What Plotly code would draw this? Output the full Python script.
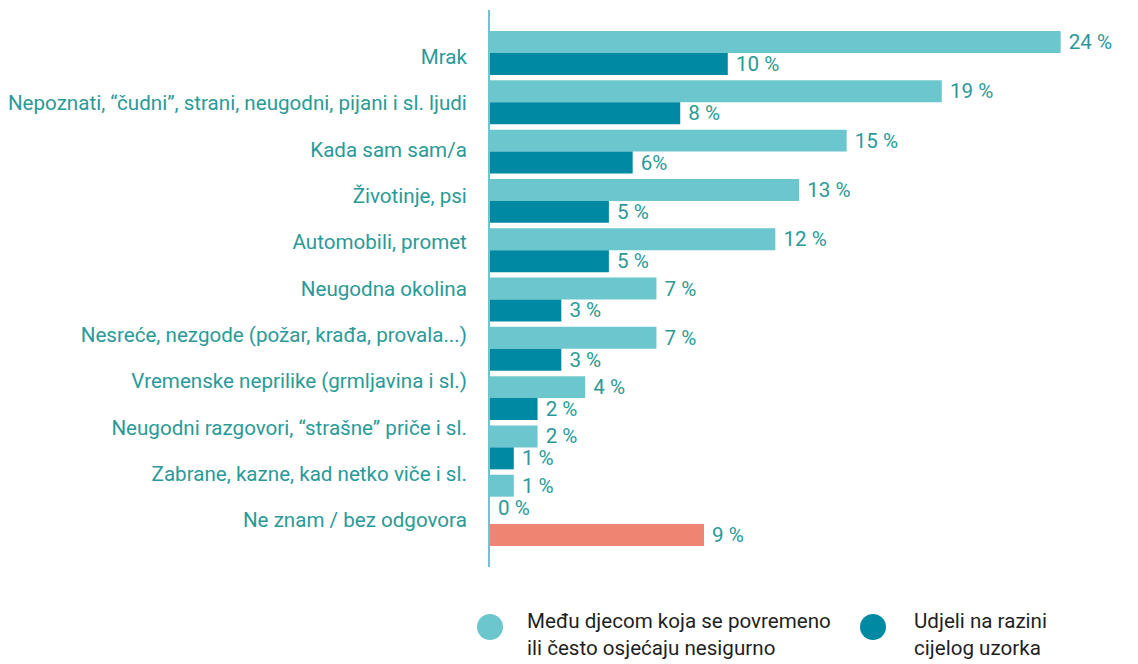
import plotly.graph_objects as go

categories = [
    "Mrak",
    "Nepoznati, “čudni”, strani, neugodni, pijani i sl. ljudi",
    "Kada sam sam/a",
    "Životinje, psi",
    "Automobili, promet",
    "Neugodna okolina",
    "Nesreće, nezgode (požar, krađa, provala...)",
    "Vremenske neprilike (grmljavina i sl.)",
    "Neugodni razgovori, “strašne” priče i sl.",
    "Zabrane, kazne, kad netko viče i sl.",
    "Ne znam / bez odgovora",
]
insecure_values = [24, 19, 15, 13, 12, 7, 7, 4, 2, 1, 9]
insecure_labels = ["24 %", "19 %", "15 %", "13 %", "12 %", "7 %", "7 %", "4 %", "2 %", "1 %", "9 %"]
sample_values = [10, 8, 6, 5, 5, 3, 3, 2, 1, 0, None]
sample_labels = ["10 %", "8 %", "6%", "5 %", "5 %", "3 %", "3 %", "2 %", "1 %", "0 %", ""]
legend_names = ["Među djecom koja se povremeno<br>ili često osjećaju nesigurno",
                "Udjeli na razini<br>cijelog uzorka"]

LIGHT = "#6CC6CE"
DARK = "#0089A3"
SALMON = "#F08473"
TEXT = "#2A9A98"
FONT = "Roboto"
FS = 20.6

positions = list(range(len(categories)))
light_colors = [LIGHT] * (len(categories) - 1) + [SALMON]

fig = go.Figure()
fig.add_trace(go.Bar(
    y=positions, x=insecure_values, orientation="h",
    marker=dict(color=light_colors, line=dict(width=0)),
    text=["\u00a0" + t for t in insecure_labels], textposition="outside",
    constraintext="none",
    textfont=dict(color=TEXT, size=FS, family=FONT),
    cliponaxis=False, showlegend=False, hoverinfo="skip",
))
fig.add_trace(go.Bar(
    y=positions, x=sample_values, orientation="h",
    marker=dict(color=DARK, line=dict(width=0)),
    text=["\u00a0" + t if t else "" for t in sample_labels], textposition="outside",
    constraintext="none",
    textfont=dict(color=TEXT, size=FS, family=FONT),
    cliponaxis=False, showlegend=False, hoverinfo="skip",
))

fig.update_layout(
    width=1138, height=664,
    margin=dict(l=490, r=6, t=10, b=97),
    paper_bgcolor="white", plot_bgcolor="white",
    barmode="group", bargap=0.109, bargroupgap=0,
    font=dict(family=FONT, color=TEXT, size=FS),
    xaxis=dict(range=[0, 27], visible=False, fixedrange=True),
    yaxis=dict(range=[10.426, -0.872], showticklabels=False, showgrid=False,
               zeroline=False, showline=True, linecolor=LIGHT, linewidth=2,
               ticks=""),
    yaxis2=dict(overlaying="y", side="left", range=[11.017, -1.013],
                tickvals=positions, ticktext=categories, showgrid=False,
                zeroline=False, showline=False, ticks="outside", ticklen=18,
                tickcolor="rgba(0,0,0,0)",
                tickfont=dict(color=TEXT, size=FS, family=FONT)),
)
# dummy trace to activate yaxis2
fig.add_trace(go.Scatter(x=[None], y=[None], yaxis="y2", showlegend=False, hoverinfo="skip"))

# legend drawn manually
plot_w = 1138 - 490 - 6
plot_h = 664 - 10 - 97
def px_x(p):
    return (p - 490) / plot_w
def px_y(p):
    return (567 - p) / plot_h

for cx, tx, col, name in [(490, 525, LIGHT, legend_names[0]), (873, 912, DARK, legend_names[1])]:
    fig.add_shape(type="circle", xref="paper", yref="paper", xsizemode="pixel", ysizemode="pixel",
                  xanchor=px_x(cx), yanchor=px_y(627), x0=-13, x1=13, y0=-13, y1=13,
                  fillcolor=col, line=dict(width=0))
    fig.add_annotation(xref="paper", yref="paper", x=px_x(tx), y=px_y(607), xanchor="left",
                       yanchor="top", align="left", showarrow=False, text=name,
                       font=dict(color="#1F1F1F", size=FS, family=FONT))

fig.write_html("out.html", config={"displayModeBar": False},
               post_script="document.body.style.margin='0';document.body.style.padding='0';")
